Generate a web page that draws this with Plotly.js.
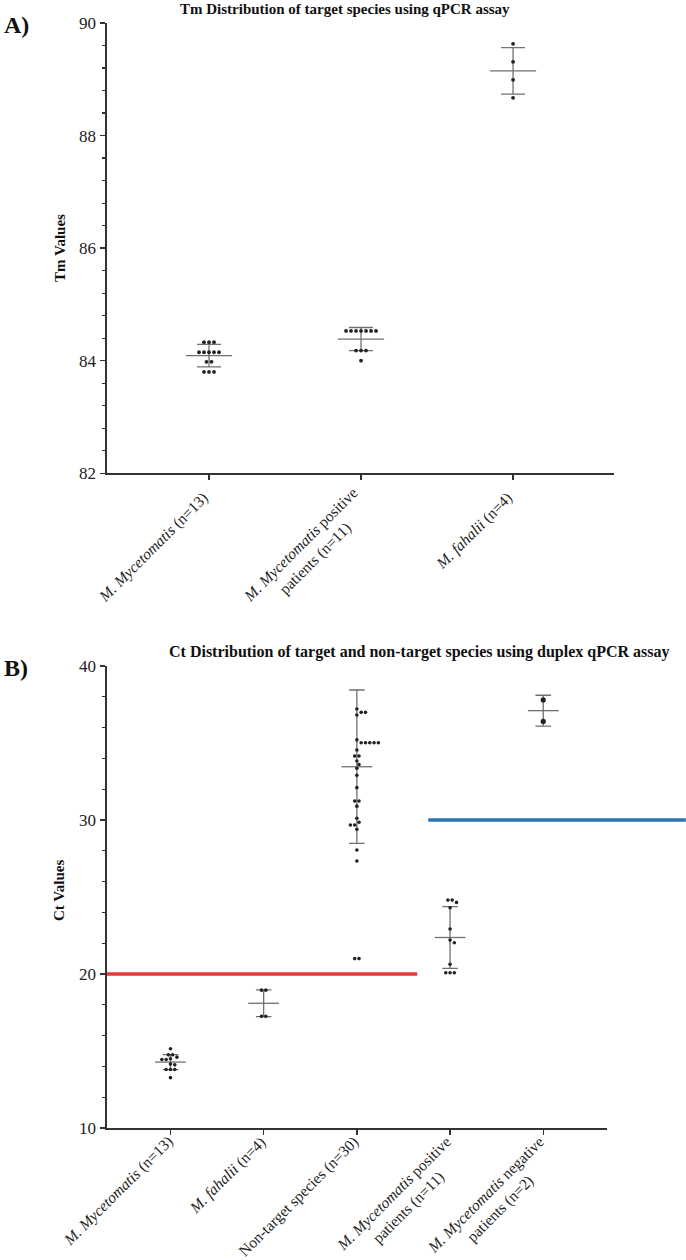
<!DOCTYPE html>
<html><head><meta charset="utf-8">
<script src="https://cdn.plot.ly/plotly-3.0.1.min.js"></script>
<style>html,body{margin:0;padding:0;background:#fff}</style>
</head><body><div id="chart" style="width:686px;height:1260px"></div>
<script>
// ---------- Panel A data (Tm) ----------
const catsA = ['<i>M. Mycetomatis</i> (n=13)', '<i>M. Mycetomatis</i> positive<br>patients (n=11)', '<i>M. fahalii</i> (n=4)'];
const tmMyc = [84.33,84.33,84.33,84.15,84.15,84.15,84.15,84.15,83.98,83.98,83.80,83.80,83.80];
const tmPos = [84.53,84.53,84.53,84.53,84.53,84.53,84.53,84.18,84.18,84.18,84.00];
const tmFah = [89.63,89.31,88.99,88.67];
const tmMean = [84.09, 84.385, 89.15];
const tmSD = [0.20, 0.205, 0.414];
const tmTicks = [82, 84, 86, 88, 90];

// ---------- Panel B data (Ct) ----------
const catsB = ['<i>M. Mycetomatis</i> (n=13)', '<i>M. fahalii</i> (n=4)', 'Non-target species (n=30)',
  '<i>M. Mycetomatis</i> positive<br>patients (n=11)', '<i>M. Mycetomatis</i> negative<br>patients (n=2)'];
const ctMyc = [15.15,14.75,14.75,14.6,14.5,14.45,14.45,14.15,14.1,13.8,13.8,13.8,13.27];
const ctFah = [18.95,18.95,17.25,17.25];
const ctNon = [37.21,36.99,36.99,36.82,35.2,35.02,35.02,35.02,35.02,35.02,34.55,34.16,34.16,33.83,33.6,33.36,32.9,32.1,31.23,31.23,30.9,30.11,29.85,29.68,29.68,29.4,28.05,27.34,21.0,21.0];
const ctPos = [24.8,24.8,24.65,24.3,22.92,22.2,22.03,20.63,20.08,20.08,20.08];
const ctNeg = [37.8,36.4];
const ctMean = [14.28, 18.10, 33.46, 22.37, 37.1];
const ctSD = [0.485, 0.865, 4.98, 2.01, 1.0];
const ctTicks = [10, 20, 30, 40];
// cut-off lines (Ct value, start and end in category units, colour)
const cutY = [20, 30];
const cutX0 = [-0.681, 2.766];
const cutX1 = [2.648, 5.53];
const cutColor = ['#e3393d', '#2b74b4'];

// ---------- layout geometry ----------
const W = 686, H = 1260, ML = 107, MR = 72, MT = 23, MB = 132;
const PW = W - ML - MR, PH = H - MT - MB;
const xRangeA = [-0.671, 2.664], yRangeA = [82, 90], domAx = [0, 1], domAy = [0.5925, 1];
const xRangeB = [-0.681, 4.684], yRangeB = [10, 40], domBx = [0, 500 / 507], domBy = [0, 0.4181];
const FONT = "'Liberation Serif', 'Times New Roman', serif";
const INK = '#222', AXC = '#333', BARC = '#707070';

const xp = px => (px - ML) / PW;
const yp = py => (H - MB - py) / PH;

function swarm(vals, pxPerY, pxPerX, d) {
  const order = vals.map((v, i) => i).sort((a, b) => vals[b] - vals[a]);
  const placed = [], xs = new Array(vals.length);
  let i = 0;
  while (i < order.length) {
    let j = i;
    while (j < order.length && vals[order[j]] === vals[order[i]]) j++;
    const n = j - i, ypx = vals[order[i]] * pxPerY;
    const shifts = [0];
    for (let k = 1; k < 30; k++) shifts.push(k * d / 2, -k * d / 2);
    for (const s of shifts) {
      const row = [];
      for (let m = 0; m < n; m++) row.push(s + (m - (n - 1) / 2) * d);
      const ok = row.every(x => placed.every(p => Math.hypot(p.x - x, p.y - ypx) >= d * 0.95));
      if (ok) { row.forEach((x, m) => { xs[order[i + m]] = x; placed.push({x: x, y: ypx}); }); break; }
    }
    i = j;
  }
  return xs.map(x => x / pxPerX);
}

const pxXA = PW * (domAx[1] - domAx[0]) / (xRangeA[1] - xRangeA[0]);
const pxYA = PH * (domAy[1] - domAy[0]) / (yRangeA[1] - yRangeA[0]);
const pxXB = PW * (domBx[1] - domBx[0]) / (xRangeB[1] - xRangeB[0]);
const pxYB = PH * (domBy[1] - domBy[0]) / (yRangeB[1] - yRangeB[0]);

const traces = [];
function addPanel(groups, means, sds, xa, ya, pxX, pxY, d, msize, meanW, capW, bigLast) {
  traces.push({
    type: 'scatter', mode: 'markers', xaxis: xa, yaxis: ya, hoverinfo: 'skip',
    x: means.map((m, i) => i), y: means,
    marker: {symbol: 'line-ew', size: meanW, color: BARC, line: {color: BARC, width: 1.3}},
    error_y: {type: 'data', array: sds, visible: true, width: capW, thickness: 1.3, color: BARC},
    cliponaxis: false, showlegend: false
  });
  groups.forEach((vals, gi) => {
    const offs = swarm(vals, pxY, pxX, d);
    const sz = (bigLast && gi === groups.length - 1) ? msize + 1.6 : msize;
    traces.push({
      type: 'scatter', mode: 'markers', xaxis: xa, yaxis: ya, hoverinfo: 'skip',
      x: vals.map((v, k) => gi + offs[k]), y: vals,
      marker: {size: sz, color: INK}, cliponaxis: false, showlegend: false
    });
  });
}
addPanel([tmMyc, tmPos, tmFah], tmMean, tmSD, 'x', 'y', pxXA, pxYA, 5, 3.8, 33, 12, false);
addPanel([ctMyc, ctFah, ctNon, ctPos, ctNeg], ctMean, ctSD, 'x2', 'y2', pxXB, pxYB, 4.3, 3.6, 22, 7.8, true);

const annotations = [];
function label(text, px, py, size, opts) {
  annotations.push(Object.assign({
    text: text, xref: 'paper', yref: 'paper', x: xp(px), y: yp(py), showarrow: false,
    xanchor: 'center', yanchor: 'middle', font: {family: FONT, size: size, color: '#111'}
  }, opts || {}));
}
label('<b>Tm Distribution of target species using qPCR assay</b>', 345, 9, 15);
label('<b>Ct Distribution of target and non-target species using duplex qPCR assay</b>', 419, 652, 16);
label('<b>A)</b>', 2, 25, 24, {xanchor: 'left'});
label('<b>B)</b>', 2, 668, 24, {xanchor: 'left'});
label('<b>Tm Values</b>', 60, 248, 15, {textangle: -90});
label('<b>Ct Values</b>', 59, 891, 15, {textangle: -90});

function catLabels(cats, xref, yBottom, off) {
  const fs = 15.5;
  cats.forEach((c, i) => {
    const n = c.split('<br>').length;
    const h = fs * (1.15 + 1.3 * (n - 1)) + 2;
    const [a, b] = off[n];
    annotations.push({
      text: c, xref: xref, yref: 'paper', x: i, y: yBottom, showarrow: false,
      xanchor: 'right', yanchor: 'top', textangle: -45, align: 'center',
      xshift: a + 0.7071 * h, yshift: -b,
      font: {family: FONT, size: fs, color: INK}
    });
  });
}
catLabels(catsA, 'x', domAy[0], {1: [-8, 13], 2: [-11, 8]});
catLabels(catsB, 'x2', domBy[0], {1: [-5, 2], 2: [-7, 2]});

const toPaperB = v => domBx[0] + (v - xRangeB[0]) / (xRangeB[1] - xRangeB[0]) * (domBx[1] - domBx[0]);
const shapes = cutY.map((y, i) => ({
  type: 'line', xref: 'paper', yref: 'y2', x0: toPaperB(cutX0[i]), x1: toPaperB(cutX1[i]), y0: y, y1: y,
  line: {color: cutColor[i], width: 3.5}
}));

const axX = {
  showline: true, linecolor: AXC, linewidth: 1.6, ticks: 'outside', ticklen: 5, tickwidth: 1.4, tickcolor: AXC,
  showticklabels: false, showgrid: false, zeroline: false, fixedrange: true
};
const axY = {
  showline: true, linecolor: AXC, linewidth: 1.6, ticks: 'outside', ticklen: 5, tickwidth: 1.4, tickcolor: AXC,
  showgrid: false, zeroline: false, fixedrange: true, tickfont: {family: FONT, size: 17, color: INK}, ticklabelstandoff: 1
};

const layout = {
  width: W, height: H, margin: {l: ML, r: MR, t: MT, b: MB}, paper_bgcolor: '#fff', plot_bgcolor: '#fff',
  showlegend: false,
  xaxis: Object.assign({}, axX, {domain: domAx, range: xRangeA, tickvals: catsA.map((c, i) => i), anchor: 'y'}),
  yaxis: Object.assign({}, axY, {domain: domAy, range: yRangeA, tickvals: tmTicks, anchor: 'x',
    minor: {dtick: 0.4, tick0: 82, ticks: 'outside', ticklen: 3, tickwidth: 1.2, tickcolor: AXC, showgrid: false}}),
  xaxis2: Object.assign({}, axX, {domain: domBx, range: xRangeB, tickvals: catsB.map((c, i) => i), anchor: 'y2'}),
  yaxis2: Object.assign({}, axY, {domain: domBy, range: yRangeB, tickvals: ctTicks, anchor: 'x2',
    minor: {dtick: 2, tick0: 10, ticks: 'outside', ticklen: 3, tickwidth: 1.2, tickcolor: AXC, showgrid: false}}),
  annotations: annotations, shapes: shapes
};
Plotly.newPlot('chart', traces, layout, {displayModeBar: false, staticPlot: true});
</script></body></html>
